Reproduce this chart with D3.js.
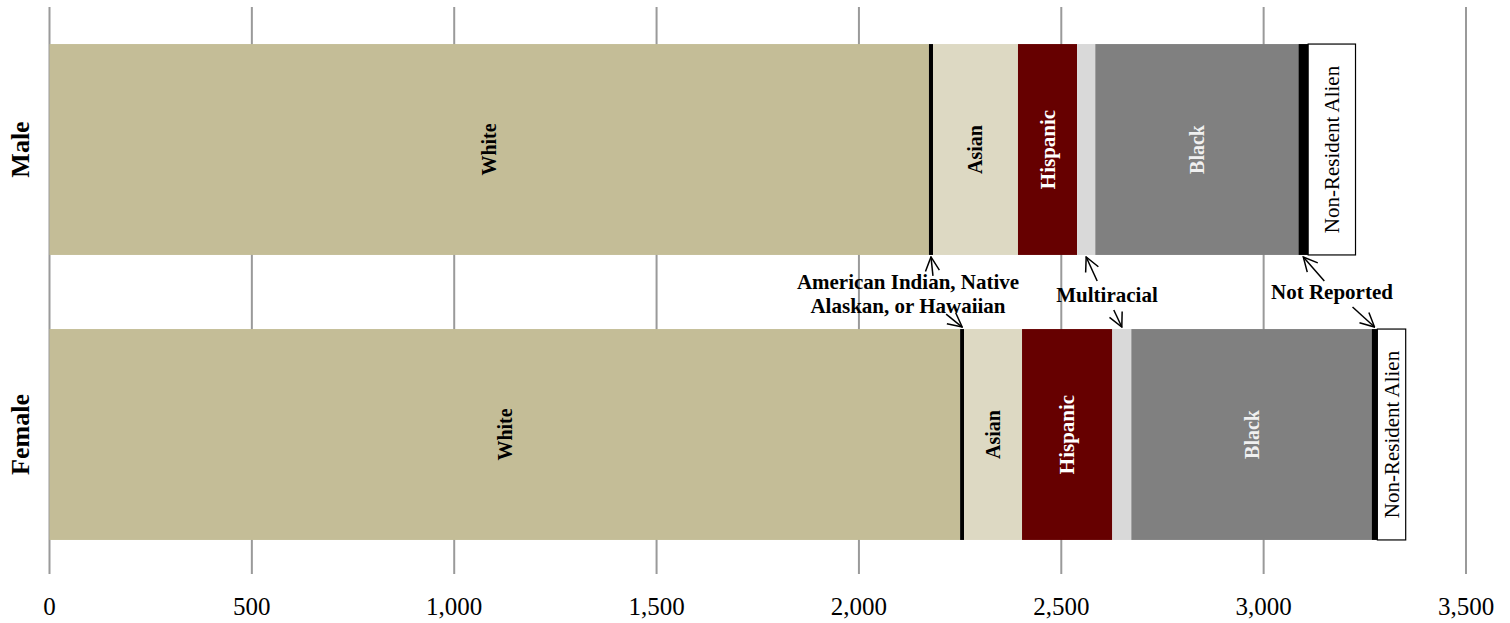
<!DOCTYPE html>
<html><head><meta charset="utf-8">
<script src="https://cdn.jsdelivr.net/npm/d3@7"></script>
<style>
html,body{margin:0;padding:0;background:#fff;}
svg text{font-family:"Liberation Serif","Times New Roman",serif;}
</style></head>
<body><svg id="chart" width="1510" height="623"></svg>
<script>
// ---- data ----
const genders = ["Male", "Female"];
const races = ["White", "American Indian, Native Alaskan, or Hawaiian", "Asian", "Hispanic", "Multiracial", "Black", "Not Reported", "Non-Resident Alien"];
const maleValues   = [2173, 10, 210, 146, 45, 502, 24, 117];
const femaleValues = [2250, 10, 143, 223, 47, 594, 14, 70];
const xTicks = [0, 500, 1000, 1500, 2000, 2500, 3000, 3500];
const barLabels = ["White", "", "Asian", "Hispanic", "", "Black", "", "Non-Resident Alien"];

// ---- style ----
const colors = ["#C4BD97", "#000000", "#DDD9C3", "#660000", "#D9D9D9", "#808080", "#000000", "#FFFFFF"];
const labelFill = ["#000", "#000", "#000", "#fff", "#000", "#f0f0f0", "#000", "#000"];
const labelWeight = ["bold", "bold", "bold", "bold", "bold", "bold", "normal", "normal"];
const labelSize = [20, 20, 20, 21, 20, 20, 21, 21];

const svg = d3.select("#chart");
const x = d3.scaleLinear().domain([0, 3500]).range([49.5, 1466]);
const y = d3.scaleBand().domain(genders).range([7, 577]).paddingInner(0.26).paddingOuter(0.13);

const plotTop = 7, plotBottom = 574;

// gridlines
svg.append("g").selectAll("line").data(xTicks).join("line")
  .attr("x1", d => x(d)).attr("x2", d => x(d))
  .attr("y1", plotTop).attr("y2", plotBottom)
  .attr("stroke", "#9a9a9a").attr("stroke-width", 2);

// tick labels
svg.append("g").selectAll("text").data(xTicks).join("text")
  .attr("x", d => x(d)).attr("y", 606)
  .attr("text-anchor", "middle").attr("dominant-baseline", "central")
  .attr("font-size", 25).attr("fill", "#000")
  .text(d => d3.format(",")(d));

// stacks
const rows = genders.map((g, gi) => {
  const vals = gi === 0 ? maleValues : femaleValues;
  let acc = 0;
  return vals.map((v, i) => { const s = acc; acc += v; return {g, i, v, x0: s, x1: acc}; });
});

rows.forEach(row => {
  const gEl = svg.append("g");
  gEl.selectAll("rect").data(row).join("rect")
    .attr("x", d => x(d.x0)).attr("y", d => y(d.g))
    .attr("width", d => x(d.x1) - x(d.x0)).attr("height", y.bandwidth())
    .attr("fill", d => colors[d.i])
    .attr("stroke", d => d.i === 7 ? "#000" : "none")
    .attr("stroke-width", d => d.i === 7 ? 1.2 : 0);
  gEl.selectAll("text").data(row.filter(d => barLabels[d.i])).join("text")
    .attr("transform", d => `translate(${(x(d.x0) + x(d.x1)) / 2},${y(d.g) + y.bandwidth() / 2}) rotate(-90)`)
    .attr("text-anchor", "middle").attr("dominant-baseline", "central")
    .attr("font-size", d => labelSize[d.i]).attr("font-weight", d => labelWeight[d.i])
    .attr("fill", d => labelFill[d.i])
    .text(d => barLabels[d.i]);
});

// category labels
svg.append("g").selectAll("text").data(genders).join("text")
  .attr("transform", d => `translate(20,${y(d) + y.bandwidth() / 2}) rotate(-90)`)
  .attr("text-anchor", "middle").attr("dominant-baseline", "central")
  .attr("font-size", 26).attr("font-weight", "bold").text(d => d);

// annotations
const annotations = [
  {race: 1, lines: ["American Indian, Native", "Alaskan, or Hawaiian"], tx: 908, ty: [282, 306],
   arrows: [{g: "Male", dx: 2, dy: 19}, {g: "Female", dx: -16, dy: -13}]},
  {race: 4, lines: ["Multiracial"], tx: 1107, ty: [295],
   arrows: [{g: "Male", dx: 11, dy: 24}, {g: "Female", dx: -8, dy: -17}]},
  {race: 6, lines: ["Not Reported"], tx: 1332, ty: [292],
   arrows: [{g: "Male", dx: 21, dy: 24}, {g: "Female", dx: -22, dy: -20}]}
];

const defs = svg.append("defs");
defs.append("marker").attr("id", "arr").attr("viewBox", "0 0 16 16")
  .attr("refX", 15).attr("refY", 8).attr("markerWidth", 16).attr("markerHeight", 16)
  .attr("markerUnits", "userSpaceOnUse").attr("orient", "auto")
  .append("path").attr("d", "M1,1 L15,8 L1,15").attr("fill", "none").attr("stroke", "#000").attr("stroke-width", 1.5);

const ann = svg.append("g");
annotations.forEach(a => {
  a.lines.forEach((ln, k) => {
    ann.append("text").attr("x", a.tx).attr("y", a.ty[k])
      .attr("text-anchor", "middle").attr("dominant-baseline", "central")
      .attr("font-size", 21).attr("font-weight", "bold").text(ln);
  });
  a.arrows.forEach(ar => {
    const row = rows[genders.indexOf(ar.g)];
    const seg = row[a.race];
    const tipX = (x(seg.x0) + x(seg.x1)) / 2;
    const tipY = ar.g === "Male" ? y(ar.g) + y.bandwidth() + 2 : y(ar.g) - 2;
    ann.append("line").attr("x1", tipX + ar.dx).attr("y1", tipY + ar.dy)
      .attr("x2", tipX).attr("y2", tipY)
      .attr("stroke", "#000").attr("stroke-width", 1.5).attr("marker-end", "url(#arr)");
  });
});
</script></body></html>
